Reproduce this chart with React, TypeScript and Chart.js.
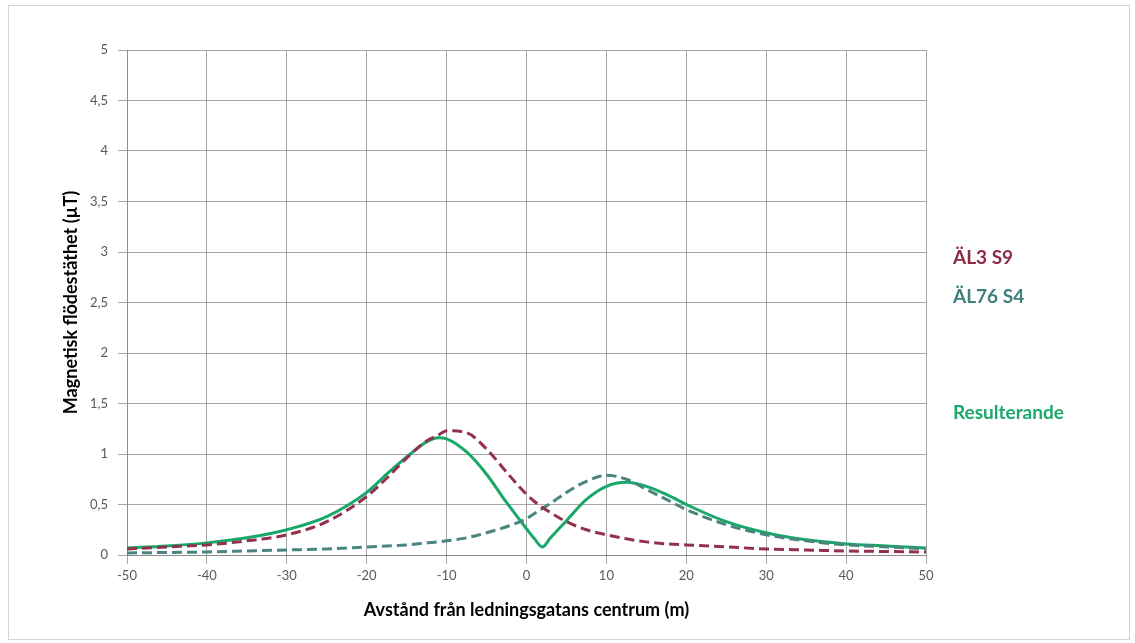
import React, { useEffect, useRef } from "react";
import { Chart, registerables } from "chart.js";

Chart.register(...registerables);

const xValues = [-50, -45, -40, -35, -30, -25, -20, -17.5, -15, -12.5, -11, -10, -7.5, -5, -2.5, 0, 1, 2, 3, 5, 7.5, 10, 12.5, 15, 17.5, 20, 25, 30, 35, 40, 45, 50];
const al3S9 = [0.06, 0.08, 0.1, 0.14, 0.2, 0.33, 0.58, 0.76, 0.96, 1.13, 1.19, 1.23, 1.21, 1.05, 0.82, 0.6, 0.53, 0.47, 0.42, 0.33, 0.25, 0.2, 0.16, 0.13, 0.11, 0.1, 0.08, 0.06, 0.05, 0.04, 0.035, 0.03];
const al76S4 = [0.02, 0.025, 0.03, 0.04, 0.05, 0.06, 0.08, 0.09, 0.1, 0.12, 0.13, 0.14, 0.17, 0.22, 0.28, 0.36, 0.41, 0.46, 0.51, 0.62, 0.73, 0.79, 0.75, 0.65, 0.55, 0.45, 0.3, 0.2, 0.14, 0.1, 0.08, 0.06];
const resulterande = [0.07, 0.09, 0.12, 0.17, 0.25, 0.38, 0.62, 0.8, 0.97, 1.12, 1.16, 1.15, 1.02, 0.8, 0.52, 0.26, 0.16, 0.08, 0.17, 0.34, 0.55, 0.68, 0.72, 0.68, 0.6, 0.5, 0.33, 0.22, 0.15, 0.11, 0.09, 0.07];

const seriesNames = ["ÄL3 S9", "ÄL76 S4", "Resulterande"];
const seriesColors = ["#93324f", "#4a8580", "#17a86a"];
const legendColors = ["#8b2b45", "#3d807c", "#1aa86b"];
const legendY = [258, 297, 413];

const xTitle = "Avstånd från ledningsgatans centrum (m)";
const yTitle = "Magnetisk flödestäthet (µT)";

const FONT = "Lato, 'Open Sans', sans-serif";

export default function App() {
  const ref = useRef<HTMLCanvasElement | null>(null);
  useEffect(() => {
    document.body.style.margin = "0";
    const canvas = ref.current;
    if (!canvas) return;
    const mk = (vals: number[]) => xValues.map((x, i) => ({ x, y: vals[i] }));
    const framePlugin = {
      id: "frame",
      beforeDraw(chart: any) {
        const ctx = chart.ctx;
        ctx.save();
        ctx.fillStyle = "#ffffff";
        ctx.fillRect(0, 0, chart.width, chart.height);
        ctx.strokeStyle = "#d4d4d4";
        ctx.lineWidth = 1;
        ctx.strokeRect(8.5, 5.5, 1121, 634);
        ctx.restore();
      },
      afterDraw(chart: any) {
        const ctx = chart.ctx;
        ctx.save();
        ctx.font = `bold 19px ${FONT}`;
        ctx.textAlign = "left";
        ctx.textBaseline = "middle";
        seriesNames.forEach((n, i) => {
          ctx.fillStyle = legendColors[i];
          ctx.fillText(n, 953, legendY[i]);
        });
        ctx.restore();
      },
    };
    const chart = new Chart(canvas, {
      type: "line",
      data: {
        datasets: [
          {
            label: seriesNames[0],
            data: mk(al3S9),
            borderColor: seriesColors[0],
            borderWidth: 3,
            borderDash: [10, 5],
            pointRadius: 0,
            cubicInterpolationMode: "monotone",
          },
          {
            label: seriesNames[1],
            data: mk(al76S4),
            borderColor: seriesColors[1],
            borderWidth: 3,
            borderDash: [10, 5],
            pointRadius: 0,
            cubicInterpolationMode: "monotone",
          },
          {
            label: seriesNames[2],
            data: mk(resulterande),
            borderColor: seriesColors[2],
            borderWidth: 3,
            pointRadius: 0,
            cubicInterpolationMode: "monotone",
          },
        ],
      },
      options: {
        animation: false,
        responsive: false,
        maintainAspectRatio: false,
        layout: { padding: { left: 55, right: 209, top: 50, bottom: 20 } },
        plugins: { legend: { display: false }, tooltip: { enabled: false } },
        scales: {
          x: {
            type: "linear",
            min: -50,
            max: 50,
            ticks: {
              stepSize: 10,
              color: "#595959",
              font: { family: FONT, size: 13 },
              padding: 4,
              maxRotation: 0,
            },
            grid: { color: "#a6a6a6", lineWidth: 1, tickLength: 9 },
            border: { color: "#8c8c8c" },
            title: {
              display: true,
              text: xTitle,
              color: "#000000",
              font: { family: FONT, size: 18, weight: "bold" },
              padding: { top: 0, bottom: 2 },
            },
            afterFit(scale: any) {
              scale.height = 68;
            },
          },
          y: {
            min: 0,
            max: 5,
            ticks: {
              stepSize: 0.5,
              color: "#595959",
              font: { family: FONT, size: 13 },
              padding: 10,
              callback: (v: any) => String(v).replace(".", ","),
            },
            grid: { color: "#a6a6a6", lineWidth: 1, tickLength: 9 },
            border: { color: "#8c8c8c" },
            title: {
              display: true,
              text: yTitle,
              color: "#000000",
              font: { family: FONT, size: 18, weight: "bold" },
              padding: { top: 5, bottom: 0 },
            },
            afterFit(scale: any) {
              scale.width = 72;
            },
          },
        },
      },
      plugins: [framePlugin],
    });
    return () => chart.destroy();
  }, []);
  return (
    <div style={{ width: 1135, height: 643 }}>
      <canvas ref={ref} width={1135} height={643} style={{ display: "block" }} />
    </div>
  );
}
